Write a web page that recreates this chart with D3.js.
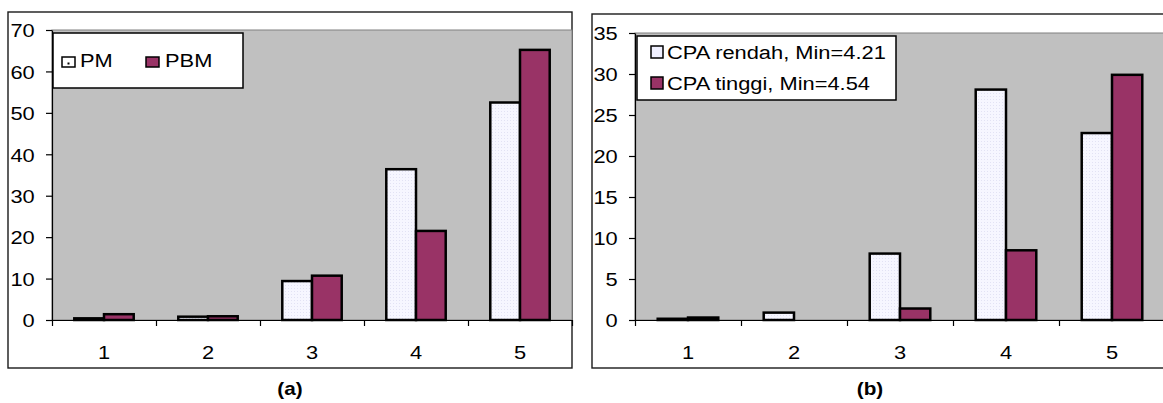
<!DOCTYPE html>
<html><head><meta charset="utf-8">
<script src="https://cdn.jsdelivr.net/npm/d3@7"></script>
<style>
body{margin:0;background:#fff}
svg text{font-family:"Liberation Sans",Arial,sans-serif;fill:#000}
</style>
</head><body>
<svg id="c" width="1163" height="403"></svg>
<script>
// ---- data ----
const categories = ["1", "2", "3", "4", "5"];
const pmValues = [0.4, 0.8, 9.4, 36.4, 52.5];
const pbmValues = [1.4, 0.9, 10.7, 21.5, 65.2];
const rendahValues = [0.15, 0.9, 8.1, 28.1, 22.8];
const tinggiValues = [0.3, 0, 1.4, 8.5, 29.9];
const yTicksA = [0, 10, 20, 30, 40, 50, 60, 70];
const yTicksB = [0, 5, 10, 15, 20, 25, 30, 35];
const legendA = ["PM", "PBM"];
const legendB = ["CPA rendah, Min=4.21", "CPA tinggi, Min=4.54"];
const captions = ["(a)", "(b)"];

const LIGHT = "#F0F0FF", PLUM = "#993366", FONT = 19, SX = 1.15;
const svg = d3.select("#c");

// dotted pattern for light bars
const defs = svg.append("defs");
const pat = defs.append("pattern").attr("id", "dots").attr("width", 3).attr("height", 3)
  .attr("patternUnits", "userSpaceOnUse");
pat.append("rect").attr("width", 3).attr("height", 3).attr("fill", "#F6F6FF");
pat.append("rect").attr("width", 1).attr("height", 1).attr("fill", "#E2E2F4");

function stretchText(sel) {
  sel.each(function () {
    const t = d3.select(this);
    const x = +t.attr("x") || 0, y = +t.attr("y") || 0;
    t.attr("transform", `translate(${x},${y}) scale(${SX},1) translate(${-x},${-y})`);
  });
}

function panel(cfg) {
  const g = svg.append("g");
  // outer frame
  g.append("rect").attr("x", cfg.frame[0]).attr("y", cfg.frame[1])
    .attr("width", cfg.frame[2]).attr("height", cfg.frame[3])
    .attr("fill", "#fff").attr("stroke", "#1a1a1a").attr("stroke-width", 1.4);

  const x = d3.scaleBand().domain(categories).range([cfg.x0, cfg.x1]).padding(0);
  const xLin = d3.scaleLinear().domain([0, categories.length]).range([cfg.x0, cfg.x1]);
  const sub = d3.scaleBand().domain(["s0", "s1"]).range([0, x.bandwidth()])
    .paddingInner(0).paddingOuter(0.75);
  const y = d3.scaleLinear().domain([0, cfg.yMax]).range([cfg.y0, cfg.y1]);

  // plot area
  g.append("rect").attr("x", cfg.x0).attr("y", y(cfg.yMax))
    .attr("width", cfg.x1 - cfg.x0).attr("height", y(0) - y(cfg.yMax))
    .attr("fill", "#C0C0C0").attr("stroke", "#808080").attr("stroke-width", 1);

  // bars
  const series = [{k: "s0", v: cfg.s0, fill: "url(#dots)"}, {k: "s1", v: cfg.s1, fill: PLUM}];
  series.forEach(s => {
    g.append("g").selectAll("rect").data(s.v.map((v, i) => ({c: categories[i], v})))
      .join("rect")
      .filter(d => d.v > 0)
      .attr("x", d => x(d.c) + sub(s.k))
      .attr("width", sub.bandwidth())
      .attr("y", d => y(d.v))
      .attr("height", d => y(0) - y(d.v))
      .attr("fill", s.fill).attr("stroke", "#000").attr("stroke-width", 2.5);
  });

  // y axis
  const ya = g.append("g").attr("transform", `translate(${cfg.x0},0)`)
    .call(d3.axisLeft(y).tickValues(cfg.ticks).tickSize(6).tickSizeOuter(0).tickPadding(9));
  ya.select(".domain").attr("stroke", "#000").attr("stroke-width", 1.2);
  ya.selectAll(".tick line").attr("stroke", "#000").attr("stroke-width", 1.2);
  ya.selectAll("text").attr("font-size", FONT).attr("font-family", null).attr("dy", "0.36em")
    .attr("transform", `scale(${SX},1)`);

  // x axis (ticks at category boundaries)
  const xa = g.append("g").attr("transform", `translate(0,${y(0)})`)
    .call(d3.axisBottom(xLin).ticks(categories.length).tickFormat("").tickSize(6).tickSizeOuter(0));
  xa.select(".domain").attr("stroke", "#000").attr("stroke-width", 1.2);
  xa.selectAll(".tick line").attr("stroke", "#000").attr("stroke-width", 1.2);
  g.append("g").selectAll("text").data(categories).join("text")
    .attr("x", d => x(d) + x.bandwidth() / 2).attr("y", cfg.xLabelY)
    .attr("text-anchor", "middle").attr("font-size", FONT).text(d => d)
    .call(stretchText);

  // caption
  g.append("text").attr("x", cfg.capX).attr("y", 395).attr("text-anchor", "middle")
    .attr("font-size", 18).attr("font-weight", "bold").text(cfg.caption).call(stretchText);

  // legend
  const L = cfg.legend;
  const lg = g.append("g");
  lg.append("rect").attr("x", L.x).attr("y", L.y).attr("width", L.w).attr("height", L.h)
    .attr("fill", "#fff").attr("stroke", "#000").attr("stroke-width", 1.5);
  L.items.forEach((it, i) => {
    lg.append("rect").attr("x", it.sx).attr("y", it.sy).attr("width", it.sw).attr("height", it.sh)
      .attr("fill", i === 0 ? (L.dot ? "#fff" : LIGHT) : PLUM)
      .attr("stroke", "#000").attr("stroke-width", 1.5);
    if (i === 0 && L.dot) {
      lg.append("rect").attr("x", it.sx + it.sw / 2 - 1).attr("y", it.sy + it.sh / 2 + 0.5)
        .attr("width", 2).attr("height", 2).attr("fill", "#000");
    }
    lg.append("text").attr("x", it.tx).attr("y", it.ty).attr("font-size", FONT)
      .text(it.label).call(stretchText);
  });
}

panel({
  frame: [8, 12, 564, 356], x0: 52, x1: 572, y0: 320, y1: 30, yMax: 70,
  ticks: yTicksA, s0: pmValues, s1: pbmValues, xLabelY: 359, capX: 290, caption: captions[0],
  legend: {x: 53, y: 33, w: 190, h: 55, dot: true, items: [
    {sx: 62, sy: 57, sw: 13, sh: 10, tx: 80, ty: 67, label: legendA[0]},
    {sx: 146, sy: 57, sw: 13, sh: 10, tx: 165, ty: 67, label: legendA[1]}
  ]}
});
panel({
  frame: [592, 14, 580, 354], x0: 635, x1: 1165, y0: 320, y1: 33, yMax: 35,
  ticks: yTicksB, s0: rendahValues, s1: tinggiValues, xLabelY: 359, capX: 870, caption: captions[1],
  legend: {x: 637, y: 36, w: 259, h: 64, dot: false, items: [
    {sx: 651, sy: 46, sw: 12, sh: 12, tx: 667, ty: 59, label: legendB[0]},
    {sx: 651, sy: 77, sw: 12, sh: 12, tx: 667, ty: 90, label: legendB[1]}
  ]}
});
</script>
</body></html>
